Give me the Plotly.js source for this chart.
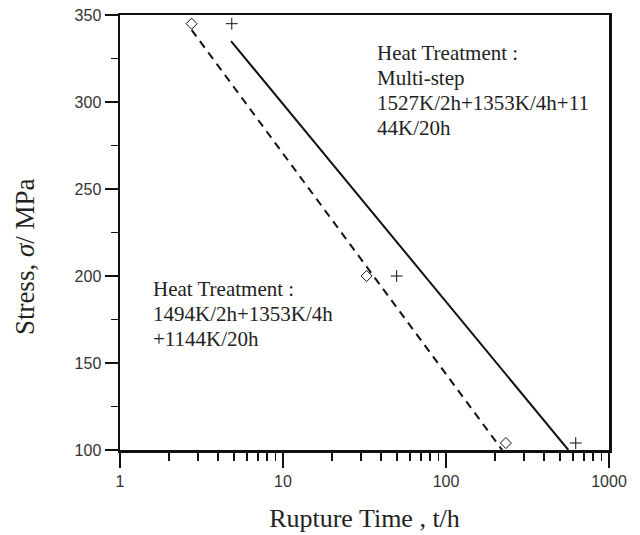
<!DOCTYPE html>
<html>
<head>
<meta charset="utf-8">
<script src="https://cdn.plot.ly/plotly-3.0.1.min.js"></script>
<style>html,body{margin:0;padding:0;background:#fff;} #chart{width:640px;height:535px;}</style>
</head>
<body>
<div id="chart"></div>
<script>
// Measured points (rupture time in h, stress in MPa)
const diamondTime = [2.75, 32.6, 233];
const diamondStress = [345, 200, 104];
const plusTime = [4.85, 49.8, 625];
const plusStress = [345, 200, 104];
// Fitted lines
const dashedTime = [2.75, 221];
const dashedStress = [341.4, 100];
const solidTime = [4.8, 563];
const solidStress = [335, 100];

const xTickVals = [1, 10, 100, 1000];
const xTickText = ["1", "10", "100", "1000"];
const xMinorVals = [2,3,4,5,6,7,8,9,20,30,40,50,60,70,80,90,200,300,400,500,600,700,800,900];
const yTickVals = [100, 150, 200, 250, 300, 350];
const yMinorVals = [125, 175, 225, 275, 325];

const noteRight = ["Heat Treatment :", "Multi-step", "1527K/2h+1353K/4h+11", "44K/20h"];
const noteLeft = ["Heat Treatment :", "1494K/2h+1353K/4h", "+1144K/20h"];
const yTitle = 'Stress, <i>σ</i>/ MPa';
const xTitle = 'Rupture Time , t/h';

const traces = [
  {x: dashedTime, y: dashedStress, mode: 'lines', line: {color: '#111', width: 2, dash: '8px,6px'}, hoverinfo: 'skip'},
  {x: solidTime, y: solidStress, mode: 'lines', line: {color: '#111', width: 2}, hoverinfo: 'skip'},
  {x: diamondTime, y: diamondStress, mode: 'markers', marker: {symbol: 'diamond-open', size: 8.5, color: '#111', line: {width: 1, color: '#111'}}},
  {x: plusTime, y: plusStress, mode: 'markers', marker: {symbol: 'cross-thin-open', size: 8.5, color: '#111', line: {width: 1, color: '#111'}}}
];

const serif = 'Liberation Serif, Times New Roman, serif';
const sans = 'Liberation Sans, Arial, sans-serif';
const annotations = [];
const rx = 0.5215, ry0 = 0.912, rstep = 0.0575;
noteRight.forEach((t, i) => annotations.push({xref: 'paper', yref: 'paper', x: rx, y: ry0 - i * rstep, xanchor: 'left', yanchor: 'middle', text: t, showarrow: false, font: {family: serif, size: 21, color: '#222'}}));
const lx = 0.063, ly0 = 0.370, lstep = 0.0575;
noteLeft.forEach((t, i) => annotations.push({xref: 'paper', yref: 'paper', x: lx, y: ly0 - i * lstep, xanchor: 'left', yanchor: 'middle', text: t, showarrow: false, font: {family: serif, size: 21, color: '#222'}}));
annotations.push({xref: 'paper', yref: 'paper', x: -0.194, y: 0.4437, xanchor: 'center', yanchor: 'middle', textangle: -90, text: yTitle, showarrow: false, font: {family: serif, size: 27, color: '#222'}});

const layout = {
  width: 640, height: 535,
  margin: {l: 120, r: 31, t: 15, b: 85},
  paper_bgcolor: '#fff', plot_bgcolor: '#fff',
  showlegend: false,
  xaxis: {
    type: 'log', range: [0, 3],
    tickvals: xTickVals, ticktext: xTickText,
    ticks: 'outside', ticklen: 15, tickwidth: 2, tickcolor: '#111',
    minor: {tickvals: xMinorVals, ticks: 'outside', ticklen: 8, tickwidth: 1.5, tickcolor: '#111', showgrid: false},
    showline: true, linewidth: 2.5, linecolor: '#111', mirror: true,
    showgrid: false, zeroline: false,
    tickfont: {family: sans, size: 16, color: '#333'},
    title: {text: xTitle, font: {family: serif, size: 26, color: '#222'}, standoff: 20}
  },
  yaxis: {
    range: [100, 350],
    tickvals: yTickVals,
    ticks: 'outside', ticklen: 13, tickwidth: 2, tickcolor: '#111',
    minor: {tickvals: yMinorVals, ticks: 'outside', ticklen: 7, tickwidth: 1.5, tickcolor: '#111', showgrid: false},
    showline: true, linewidth: 2.5, linecolor: '#111', mirror: true,
    showgrid: false, zeroline: false,
    tickfont: {family: sans, size: 16, color: '#333'}
  },
  annotations: annotations
};

Plotly.newPlot('chart', traces, layout, {staticPlot: true, displayModeBar: false});
</script>
</body>
</html>
